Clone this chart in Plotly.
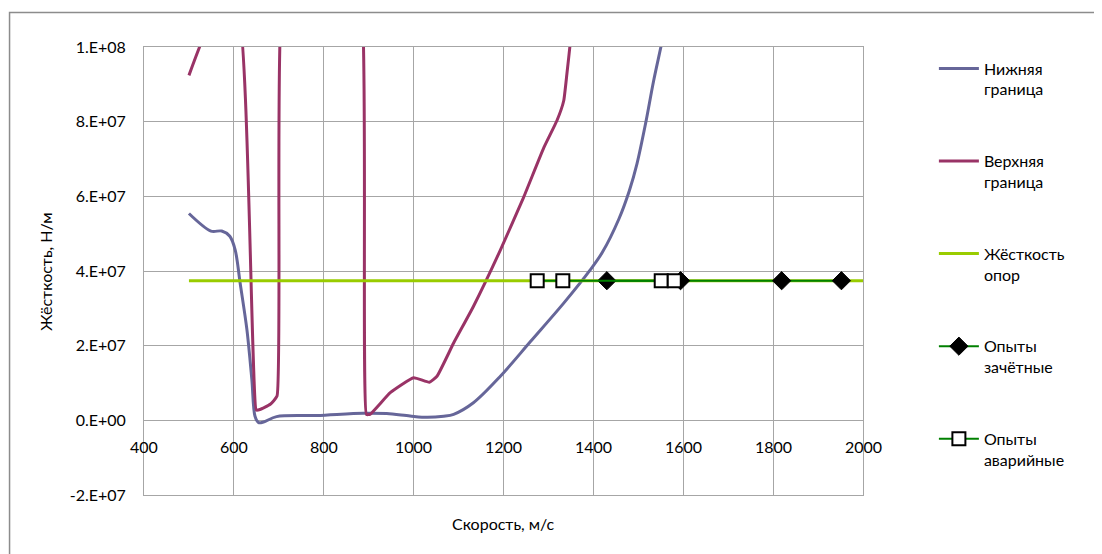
import plotly.graph_objects as go

# ---- data ----
lower_speed = [500, 549, 573, 591, 603, 614, 629, 640, 647, 655, 666, 695, 785, 888, 940, 992, 1030,
               1067, 1089, 1133, 1193, 1260, 1334, 1393, 1420, 1457, 1480, 1497, 1516, 1534, 1553, 1570]
lower_stiff = [5.54e7, 5.07e7, 5.07e7, 4.93e7, 4.56e7, 3.67e7, 2.43e7, 1.09e7, 1.1e6, -0.6e6, -0.45e6,
               1.0e6, 1.3e6, 1.9e6, 1.8e6, 1.15e6, 0.8e6, 1.1e6, 1.6e6, 4.7e6, 1.18e7, 2.11e7, 3.14e7,
               4.03e7, 4.5e7, 5.4e7, 6.15e7, 6.87e7, 7.94e7, 9.09e7, 1.016e8, 1.12e8]

upper_speed = [500, 550, 608, 650, 658, 681, 696, 706, 800, 885, 895, 903, 948, 1000, 1035, 1052, 1089,
               1133, 1193, 1245, 1290, 1319, 1334, 1341, 1349, 1360]
upper_stiff = [9.24e7, 1.07e8, 1.1e8, 2.75e6, 2.9e6, 4.3e6, 6.5e6, 1.1e8, 1.5e8, 1.1e8, 1.6e6, 1.6e6,
               7.4e6, 1.14e7, 1.02e7, 1.18e7, 2.07e7, 3.05e7, 4.56e7, 5.98e7, 7.31e7, 8.03e7, 8.56e7,
               9.27e7, 1.016e8, 1.2e8]

support_speed = [500, 2000]
support_stiff = [3.74e7, 3.74e7]

ok_speed = [1430, 1594, 1819, 1952]
ok_stiff = [3.74e7, 3.74e7, 3.74e7, 3.74e7]

fail_speed = [1275, 1332, 1551, 1580]
fail_stiff = [3.74e7, 3.74e7, 3.74e7, 3.74e7]

x_ticks = [400, 600, 800, 1000, 1200, 1400, 1600, 1800, 2000]
y_ticks = [1e8, 8e7, 6e7, 4e7, 2e7, 0, -2e7]
y_tick_text = ["1.E+08", "8.E+07", "6.E+07", "4.E+07", "2.E+07", "0.E+00", "-2.E+07"]

names = ["Нижняя<br>граница", "Верхняя<br>граница", "Жёсткость<br>опор",
         "Опыты<br>зачётные", "Опыты<br>аварийные"]

FONT = "Lato"
FS = 16
GRID = "#A6A6A6"

fig = go.Figure()
fig.add_trace(go.Scatter(x=lower_speed, y=lower_stiff, mode="lines", name=names[0], legendgroup="a",
                         line=dict(color="#666699", width=3, shape="spline", smoothing=0.9)))
fig.add_trace(go.Scatter(x=upper_speed, y=upper_stiff, mode="lines", name=names[1], legendgroup="b",
                         line=dict(color="#993366", width=3, shape="spline", smoothing=0.4)))
fig.add_trace(go.Scatter(x=support_speed, y=support_stiff, mode="lines", name=names[2], legendgroup="c",
                         line=dict(color="#99CC00", width=3)))
fig.add_trace(go.Scatter(x=ok_speed, y=ok_stiff, mode="lines+markers", name=names[3], legendgroup="d",
                         line=dict(color="#008000", width=2),
                         marker=dict(symbol="diamond", size=14, color="black",
                                     line=dict(color="black", width=1))))
fig.add_trace(go.Scatter(x=fail_speed, y=fail_stiff, mode="lines+markers", name=names[4], legendgroup="e",
                         line=dict(color="#008000", width=2),
                         marker=dict(symbol="square", size=13, color="white",
                                     line=dict(color="black", width=2))))

annotations = [dict(x=v, y=0, xref="x", yref="y", yshift=-26, text=str(v), showarrow=False,
                    font=dict(family=FONT, size=FS, color="black")) for v in x_ticks]
annotations.append(dict(x=0.5, y=-0.0625, xref="paper", yref="paper", text="Скорость, м/с",
                        showarrow=False, yanchor="middle",
                        font=dict(family=FONT, size=FS, color="black")))
annotations.append(dict(x=-0.1377, y=0.5, xref="paper", yref="paper", text="Жёсткость, Н/м",
                        showarrow=False, textangle=-90, xanchor="center", yanchor="middle",
                        font=dict(family=FONT, size=FS, color="black")))

# page has an 8px body margin: figure is 1094x546 placed at (8, 8)
fig.update_layout(
    width=1094, height=546,
    margin=dict(l=136, r=239, t=39, b=59),
    paper_bgcolor="white", plot_bgcolor="white",
    font=dict(family=FONT, size=FS, color="black"),
    showlegend=True,
    legend=dict(x=1.0986, y=0.99, xanchor="left", yanchor="top", valign="top",
                tracegroupgap=48, itemwidth=40, bgcolor="rgba(0,0,0,0)",
                font=dict(family=FONT, size=FS, color="black")),
    xaxis=dict(range=[400, 2000], tickvals=x_ticks, showticklabels=False, showgrid=True,
               gridcolor=GRID, gridwidth=1, showline=True, linecolor=GRID, linewidth=1,
               mirror=True, zeroline=False, ticks=""),
    yaxis=dict(range=[-2e7, 1e8], tickvals=y_ticks, ticktext=y_tick_text, showgrid=True,
               gridcolor=GRID, gridwidth=1, showline=True, linecolor=GRID, linewidth=1,
               mirror=True, zeroline=True, zerolinecolor=GRID, zerolinewidth=1, ticks="",
               ticklabelstandoff=14, tickfont=dict(family=FONT, size=FS, color="black")),
    annotations=annotations,
    shapes=[dict(type="rect", xref="paper", yref="paper", x0=-0.187, y0=-0.2, x1=1.4, y1=1.077,
                 line=dict(color="#8C8C8C", width=1.5), fillcolor="rgba(0,0,0,0)", layer="below")],
)

fig.write_html("out.html")
